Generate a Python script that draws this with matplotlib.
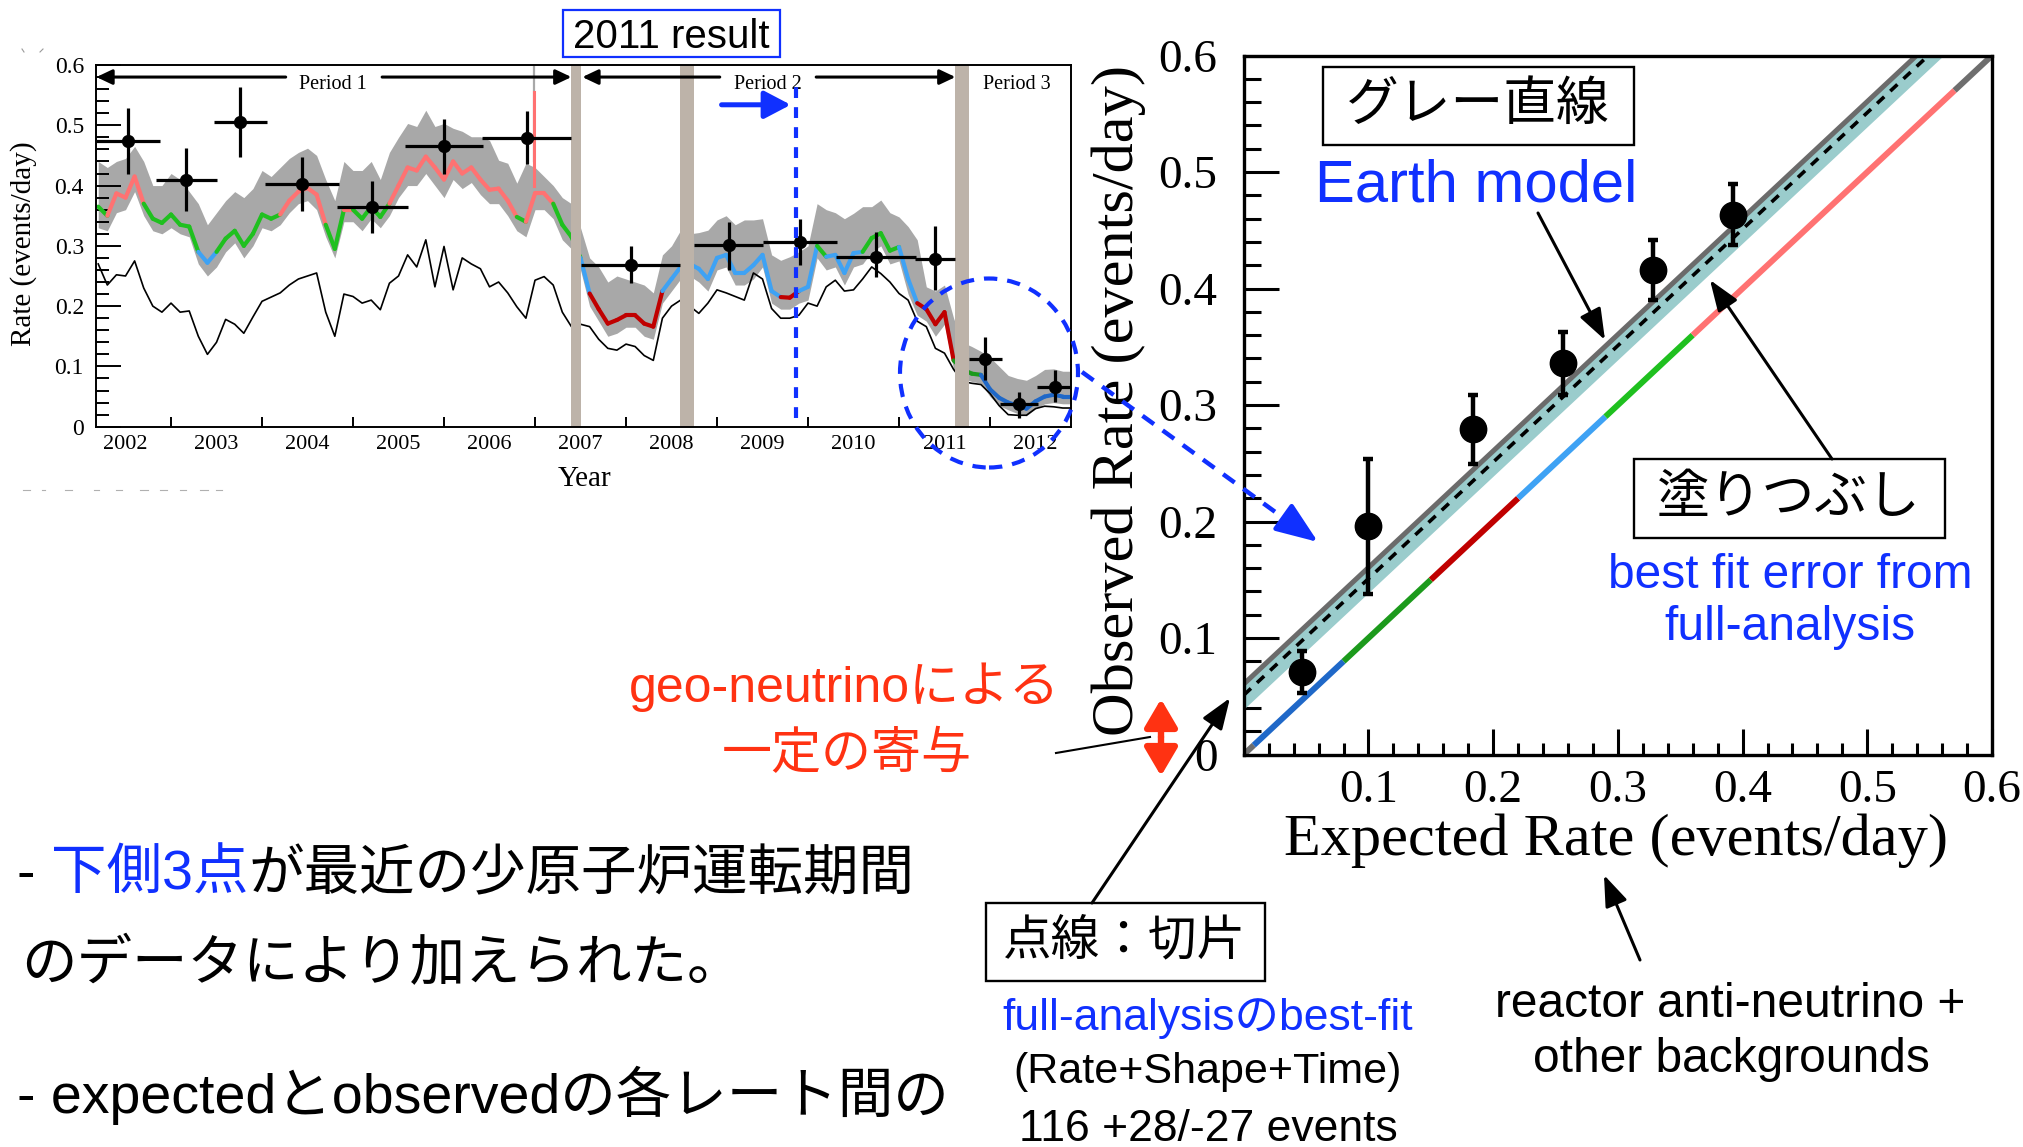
import numpy as np
import matplotlib
matplotlib.use("Agg")
import matplotlib.pyplot as plt
from matplotlib.patches import Rectangle, Ellipse, FancyArrowPatch
from matplotlib.lines import Line2D
from matplotlib.collections import LineCollection
from matplotlib.ticker import MultipleLocator

plt.rcParams["font.family"] = ["Liberation Serif", "DejaVu Serif"]
SANS = ["Liberation Sans", "Noto Sans CJK JP"]

W, H = 2024, 1147

# ---------------- time series: KamLAND rate history ----------------
years = [2002.2, 2002.3, 2002.4, 2002.5, 2002.6, 2002.7, 2002.8, 2002.9,
         2003.0, 2003.1, 2003.2, 2003.3, 2003.4, 2003.5, 2003.6, 2003.7, 2003.8, 2003.9,
         2004.0, 2004.1, 2004.2, 2004.3, 2004.4, 2004.5, 2004.6, 2004.7, 2004.8, 2004.9,
         2005.0, 2005.1, 2005.2, 2005.3, 2005.4, 2005.5, 2005.6, 2005.7, 2005.8, 2005.9,
         2006.0, 2006.1, 2006.2, 2006.3, 2006.4, 2006.5, 2006.6, 2006.7, 2006.8, 2006.9,
         2007.0, 2007.1, 2007.2, 2007.3, 2007.4, 2007.5, 2007.6, 2007.7, 2007.8, 2007.9,
         2008.0, 2008.1, 2008.2, 2008.3, 2008.4, 2008.5, 2008.6, 2008.7, 2008.8, 2008.9,
         2009.0, 2009.1, 2009.2, 2009.3, 2009.4, 2009.5, 2009.6, 2009.7, 2009.8, 2009.9,
         2010.0, 2010.1, 2010.2, 2010.3, 2010.4, 2010.5, 2010.6, 2010.7, 2010.8, 2010.9,
         2011.0, 2011.1, 2011.2, 2011.3, 2011.4, 2011.5, 2011.6, 2011.7, 2011.8, 2011.9,
         2012.0, 2012.1, 2012.2, 2012.3, 2012.4, 2012.5, 2012.6, 2012.7, 2012.8, 2012.9]

# expected rate (reactor + backgrounds), coloured by rate bin
expected_rate = [0.365, 0.350, 0.387, 0.380, 0.415, 0.370, 0.345, 0.338,
                 0.352, 0.335, 0.332, 0.290, 0.272, 0.290, 0.312, 0.325, 0.300, 0.320,
                 0.352, 0.345, 0.352, 0.375, 0.390, 0.396, 0.385, 0.335, 0.295, 0.360,
                 0.360, 0.345, 0.365, 0.348, 0.370, 0.400, 0.430, 0.425, 0.448, 0.430,
                 0.410, 0.440, 0.420, 0.430, 0.410, 0.393, 0.395, 0.375, 0.348, 0.340,
                 0.387, 0.387, 0.370, 0.335, 0.315, 0.280, 0.221, 0.195, 0.171, 0.177,
                 0.185, 0.185, 0.171, 0.166, 0.225, 0.245, 0.265, 0.270, 0.262, 0.245,
                 0.280, 0.285, 0.255, 0.255, 0.268, 0.285, 0.225, 0.215, 0.214, 0.225,
                 0.232, 0.300, 0.282, 0.285, 0.255, 0.288, 0.290, 0.313, 0.321, 0.292,
                 0.298, 0.245, 0.205, 0.195, 0.170, 0.190, 0.110, 0.095, 0.088, 0.086,
                 0.062, 0.048, 0.040, 0.035, 0.030, 0.042, 0.050, 0.053, 0.050, 0.050]

# expected rate including geo-neutrinos (grey band edges)
band_top = [0.440, 0.430, 0.440, 0.445, 0.465, 0.440, 0.400, 0.400,
            0.420, 0.410, 0.390, 0.370, 0.335, 0.355, 0.375, 0.390, 0.380, 0.395,
            0.425, 0.415, 0.430, 0.445, 0.455, 0.462, 0.450, 0.410, 0.375, 0.440,
            0.425, 0.425, 0.440, 0.410, 0.455, 0.480, 0.503, 0.498, 0.525, 0.498,
            0.503, 0.495, 0.490, 0.481, 0.481, 0.475, 0.442, 0.437, 0.404, 0.437,
            0.430, 0.415, 0.400, 0.380, 0.370, 0.330, 0.280, 0.265, 0.240, 0.250,
            0.245, 0.240, 0.235, 0.222, 0.285, 0.300, 0.326, 0.320, 0.322, 0.326,
            0.343, 0.350, 0.335, 0.343, 0.343, 0.345, 0.285, 0.276, 0.282, 0.290,
            0.300, 0.370, 0.360, 0.355, 0.345, 0.354, 0.365, 0.365, 0.376, 0.355,
            0.348, 0.332, 0.310, 0.232, 0.225, 0.235, 0.180, 0.140, 0.133, 0.125,
            0.115, 0.100, 0.085, 0.080, 0.077, 0.085, 0.095, 0.096, 0.092, 0.092]
band_bottom = [0.330, 0.325, 0.355, 0.360, 0.390, 0.350, 0.325, 0.320,
               0.330, 0.320, 0.315, 0.270, 0.250, 0.265, 0.290, 0.305, 0.280, 0.300,
               0.330, 0.325, 0.335, 0.355, 0.370, 0.375, 0.360, 0.315, 0.280, 0.340,
               0.340, 0.325, 0.345, 0.330, 0.350, 0.380, 0.400, 0.400, 0.420, 0.400,
               0.380, 0.410, 0.395, 0.405, 0.385, 0.370, 0.370, 0.350, 0.325, 0.315,
               0.360, 0.360, 0.345, 0.310, 0.295, 0.260, 0.200, 0.175, 0.150, 0.155,
               0.165, 0.165, 0.150, 0.145, 0.205, 0.225, 0.245, 0.250, 0.240, 0.225,
               0.260, 0.265, 0.235, 0.235, 0.245, 0.265, 0.205, 0.195, 0.195, 0.205,
               0.210, 0.280, 0.260, 0.265, 0.235, 0.265, 0.270, 0.290, 0.300, 0.270,
               0.275, 0.220, 0.185, 0.175, 0.150, 0.170, 0.095, 0.080, 0.075, 0.072,
               0.050, 0.035, 0.028, 0.022, 0.018, 0.030, 0.038, 0.040, 0.038, 0.038]

# reactor-only expectation (black line)
reactor_only = [0.270, 0.235, 0.252, 0.250, 0.275, 0.230, 0.200, 0.190,
                0.205, 0.190, 0.192, 0.150, 0.120, 0.140, 0.178, 0.170, 0.155, 0.182,
                0.208, 0.215, 0.222, 0.235, 0.245, 0.250, 0.255, 0.190, 0.150, 0.220,
                0.216, 0.205, 0.210, 0.194, 0.238, 0.250, 0.285, 0.265, 0.310, 0.232,
                0.299, 0.227, 0.280, 0.270, 0.262, 0.232, 0.240, 0.222, 0.199, 0.180,
                0.243, 0.249, 0.235, 0.190, 0.166, 0.170, 0.166, 0.145, 0.130, 0.127,
                0.137, 0.133, 0.118, 0.110, 0.180, 0.200, 0.210, 0.200, 0.188, 0.205,
                0.227, 0.222, 0.216, 0.210, 0.255, 0.245, 0.196, 0.180, 0.180, 0.185,
                0.205, 0.200, 0.232, 0.243, 0.225, 0.227, 0.245, 0.265, 0.254, 0.240,
                0.221, 0.210, 0.175, 0.166, 0.130, 0.122, 0.095, 0.075, 0.072, 0.070,
                0.055, 0.035, 0.020, 0.019, 0.019, 0.030, 0.034, 0.033, 0.031, 0.031]

# single-day spike late 2006
spike_year = 2006.99
spike_rate = 0.555
spike_band = 0.600

# detector purification / no-data intervals
gaps = [(2007.39, 2007.51), (2008.59, 2008.75), (2011.62, 2011.77)]

# binned data points
pt_year = [2002.53, 2003.17, 2003.76, 2004.44, 2005.21, 2006.00, 2006.91, 2008.05,
           2009.13, 2009.91, 2010.75, 2011.40, 2011.95, 2012.32, 2012.71]
pt_half = [0.35, 0.33, 0.29, 0.41, 0.39, 0.43, 0.49, 0.54,
           0.38, 0.41, 0.44, 0.22, 0.18, 0.21, 0.19]
pt_rate = [0.474, 0.409, 0.506, 0.402, 0.365, 0.466, 0.479, 0.268,
           0.301, 0.307, 0.282, 0.278, 0.113, 0.037, 0.066]
pt_err_up = [0.055, 0.053, 0.058, 0.045, 0.043, 0.045, 0.045, 0.032,
             0.038, 0.037, 0.041, 0.055, 0.036, 0.021, 0.028]
pt_err_dn = [0.054, 0.052, 0.058, 0.044, 0.044, 0.047, 0.043, 0.030,
             0.041, 0.039, 0.033, 0.051, 0.036, 0.023, 0.025]

year_labels = ["2002", "2003", "2004", "2005", "2006", "2007",
               "2008", "2009", "2010", "2011", "2012"]
rate_labels = ["0", "0.1", "0.2", "0.3", "0.4", "0.5", "0.6"]

# ---------------- observed vs expected ----------------
exp_points = [0.047, 0.100, 0.184, 0.256, 0.328, 0.392]
obs_points = [0.071, 0.196, 0.279, 0.336, 0.416, 0.4635]
obs_err = [0.018, 0.058, 0.030, 0.027, 0.026, 0.026]
earth_model_offset = 0.0605
best_fit_offset = 0.051
best_fit_range = (0.039, 0.063)

# expected-rate bins and their colours
rate_edges = [0.008, 0.08, 0.15, 0.22, 0.29, 0.36, 0.57]
bin_colors = ["#1f68c8", "#1c9a1c", "#c00000", "#3ea2f4", "#1fc01f", "#ff7272"]
OUT_COLOR = "#6e6e6e"

BLUE = "#1030ff"
RED = "#ff3212"
TAN = "#bdb3a9"
BAND = "#a8a8a8"


def rate_color(v):
    for lo, hi, c in zip(rate_edges[:-1], rate_edges[1:], bin_colors):
        if lo <= v < hi:
            return c
    return OUT_COLOR


def F(x, y):
    """figure pixels (from top-left) -> figure fraction"""
    return (x / W, 1 - y / H)


fig = plt.figure(figsize=(W / 100, H / 100), dpi=100)
fig.patch.set_facecolor("white")

# ======================= top-left panel =======================
L, R_, T, B = 96.4, 1071.0, 65.0, 426.7
ax1 = fig.add_axes([L / W, 1 - B / H, (R_ - L) / W, (B - T) / H])
ax1.set_xlim(2002.18, 2012.89)
ax1.set_ylim(0, 0.6)

t = np.array(years)
v = np.array(expected_rate)
ax1.fill_between(t, band_bottom, band_top, color=BAND, lw=0, zorder=1)
ax1.plot([spike_year, spike_year], [0.44, spike_band], color=BAND, lw=1.6, zorder=1)
segs = [[(t[i], v[i]), (t[i + 1], v[i + 1])] for i in range(len(t) - 1)]
cols = [rate_color(0.5 * (v[i] + v[i + 1])) for i in range(len(t) - 1)]
ax1.add_collection(LineCollection(segs, colors=cols, linewidths=3.0,
                                  capstyle="round", zorder=2))
ax1.plot([spike_year, spike_year], [0.40, spike_rate], color=rate_color(0.5),
         lw=2.2, zorder=2)
ax1.plot(t, reactor_only, color="black", lw=1.2, zorder=3)

for g0, g1 in gaps:
    ax1.axvspan(g0, g1, color=TAN, lw=0, zorder=4)

ax1.errorbar(pt_year, pt_rate, xerr=pt_half, yerr=[pt_err_dn, pt_err_up],
             fmt="o", color="black", ms=8.5, elinewidth=2.3, capsize=0, zorder=6)

# period markers
arr_kw = dict(arrowstyle="-|>,head_length=0.95,head_width=0.45", lw=2.2,
              color="black", mutation_scale=10, shrinkA=0, shrinkB=0)
for x0, x1 in [(2004.26, 2002.18), (2005.32, 2007.40),
               (2009.03, 2007.52), (2010.09, 2011.62)]:
    ax1.annotate("", xy=(x1, 0.580), xytext=(x0, 0.580), arrowprops=arr_kw,
                 zorder=7)
for x, s in [(2004.78, "Period 1"), (2009.56, "Period 2"), (2012.29, "Period 3")]:
    ax1.text(x, 0.561, s, ha="center", va="baseline", fontsize=14.5, zorder=7)

# 2011 analysis cut
ax1.plot([2009.87, 2009.87], [0.014, 0.567], color=BLUE, lw=3,
         linestyle=(0, (2.6, 2.2)), zorder=7)
ax1.annotate("", xy=(2009.81, 0.534), xytext=(2009.05, 0.534),
             arrowprops=dict(arrowstyle="-|>,head_length=0.8,head_width=0.42",
                             lw=3.6, color=BLUE, mutation_scale=20,
                             shrinkA=0, shrinkB=0), zorder=7)

ax1.set_xticks(range(2003, 2013))
ax1.set_xticks([y + 0.5 for y in range(2002, 2013)], minor=True)
ax1.set_xticklabels(year_labels, minor=True)
ax1.tick_params(axis="x", which="major", direction="in", length=7, width=1.4,
                labelbottom=False)
ax1.tick_params(axis="x", which="minor", length=0, labelsize=16, pad=6)
ax1.set_yticks([0, 0.1, 0.2, 0.3, 0.4, 0.5, 0.6])
ax1.set_yticklabels(rate_labels)
ax1.yaxis.set_minor_locator(MultipleLocator(0.02))
ax1.tick_params(axis="y", which="major", direction="in", length=18, width=1.4,
                labelsize=17, pad=9)
ax1.tick_params(axis="y", which="minor", direction="in", length=9, width=1.4)
for s in ax1.spines.values():
    s.set_linewidth(1.4)
    s.set_zorder(8)

fig.text(*F(24, 244), "Rate (events/day)", rotation=90, ha="center", va="center",
         fontsize=21)
fig.text(*F(585, 486), "Year", ha="center", va="baseline", fontsize=21)

# ======================= observed vs expected panel =======================
L2, R2, T2, B2 = 1243.8, 1992.0, 55.5, 754.5
ax2 = fig.add_axes([L2 / W, 1 - B2 / H, (R2 - L2) / W, (B2 - T2) / H])
ax2.set_xlim(0, 0.6)
ax2.set_ylim(0, 0.6)

xx = np.array([0.0, 0.6])
# expected = observed diagonal, coloured by rate bin
ax2.plot([0, rate_edges[0]], [0, rate_edges[0]], color=OUT_COLOR, lw=4.3,
         solid_capstyle="butt", zorder=2)
for lo, hi, c in zip(rate_edges[:-1], rate_edges[1:], bin_colors):
    ax2.plot([lo, hi], [lo, hi], color=c, lw=4.3, solid_capstyle="butt", zorder=2)
ax2.plot([rate_edges[-1], 0.6], [rate_edges[-1], 0.6], color=OUT_COLOR, lw=4.3,
         solid_capstyle="butt", zorder=2)
# best-fit geo-neutrino offset with its error, and the Earth-model prediction
ax2.fill_between(xx, xx + best_fit_range[0], xx + best_fit_range[1],
                 color="#9acccc", lw=0, zorder=3)
ax2.plot(xx, xx + earth_model_offset, color="#6b6b6b", lw=3.6, zorder=4)
ax2.plot(xx, xx + best_fit_offset, color="black", lw=2.6,
         linestyle=(0, (2.7, 2.3)), zorder=5)
ax2.errorbar(exp_points, obs_points, yerr=obs_err, fmt="o", color="black",
             ms=19, elinewidth=3.2, capsize=3.5, capthick=3.2, zorder=6)

ax2.set_xticks([0, 0.1, 0.2, 0.3, 0.4, 0.5, 0.6])
ax2.set_xticklabels([""] + rate_labels[1:])
ax2.set_yticks([0, 0.1, 0.2, 0.3, 0.4, 0.5, 0.6])
ax2.set_yticklabels(rate_labels)
ax2.xaxis.set_minor_locator(MultipleLocator(0.02))
ax2.yaxis.set_minor_locator(MultipleLocator(0.02))
ax2.tick_params(axis="x", which="major", direction="in", length=19, width=2.2,
                labelsize=34, pad=11)
ax2.tick_params(axis="x", which="minor", direction="in", length=8.3, width=2.2)
ax2.tick_params(axis="y", which="major", direction="in", length=25, width=2.2,
                labelsize=34, pad=19)
ax2.tick_params(axis="y", which="minor", direction="in", length=12, width=2.2)
for s in ax2.spines.values():
    s.set_linewidth(2.4)
    s.set_zorder(8)

fig.text(*F(1616, 855), "Expected Rate (events/day)", ha="center", va="baseline",
         fontsize=43.5)
fig.text(*F(1119, 400), "Observed Rate (events/day)", rotation=90, ha="center",
         va="center", fontsize=43.5)


# ======================= annotations =======================
def box(x0, y0, x1, y1, ec="black", lw=1.7):
    fig.add_artist(Rectangle(F(x0, y1), (x1 - x0) / W, (y1 - y0) / H,
                             transform=fig.transFigure, fc="white", ec=ec,
                             lw=lw, zorder=10))


def label(x, y, s, size, color="black", ha="center", va="baseline"):
    return fig.text(*F(x, y), s, fontsize=size, color=color, ha=ha, va=va,
                    family=SANS, zorder=11)


def arrow(p0, p1, color="black", lw=2.2, hl=1.9, hw=0.7, style="-|>", ls="-"):
    fig.add_artist(FancyArrowPatch(F(*p0), F(*p1), transform=fig.transFigure,
                                   arrowstyle=f"{style},head_length={hl},head_width={hw}",
                                   mutation_scale=10, color=color, lw=lw,
                                   linestyle=ls, shrinkA=0, shrinkB=0, zorder=12))


box(563, 10, 780, 57, ec=BLUE, lw=1.6)
label(671, 48, "2011 result", 29)

box(1323, 67, 1634, 145)
label(1478, 106, "グレー直線", 38, va="center")
label(1476, 201, "Earth model", 43, color=BLUE)
arrow((1538, 213), (1605, 340))

box(1634, 459, 1945, 538)
label(1789, 499, "塗りつぶし", 38, va="center")
label(1790, 588, "best fit error from", 34.5, color=BLUE)
label(1790, 640, "full-analysis", 34.5, color=BLUE)
arrow((1832, 459), (1710, 280))

label(844, 702, "geo-neutrinoによる", 36, color=RED)
label(847, 768, "一定の寄与", 36, color=RED)
arrow((1161, 737), (1161, 699), color=RED, lw=4.6, hl=1.7, hw=1.0)
arrow((1161, 737), (1161, 776), color=RED, lw=4.6, hl=1.7, hw=1.0)
fig.add_artist(Line2D([1056 / W, 1150 / W], [1 - 753 / H, 1 - 737 / H],
                      transform=fig.transFigure, color="black", lw=1.5, zorder=12))

box(986, 903, 1265, 981)
label(1125, 942, "点線：切片", 35, va="center")
arrow((1092, 903), (1230, 698))
label(1208, 1030, "full-analysisのbest-fit", 32, color=BLUE)
label(1208, 1083, "(Rate+Shape+Time)", 31)
label(1208, 1141, "116 +28/-27 events", 32)

arrow((1640, 960), (1604, 875))
label(1730, 1017, "reactor anti-neutrino +", 34.5)
label(1731, 1072, "other backgrounds", 34.5)

# highlighted low-rate period and pointer to the lowest points
fig.add_artist(Ellipse((989 / 100, (H - 373) / 100), 1.78, 1.89,
                       transform=fig.dpi_scale_trans, fill=False, ec=BLUE, lw=3,
                       linestyle=(0, (3.2, 2.4)), zorder=12))
fig.add_artist(Line2D([1082 / W, 1296 / W], [1 - 372 / H, 1 - 527 / H],
                      transform=fig.transFigure, color=BLUE, lw=3.2,
                      linestyle=(0, (3.2, 2.4)), zorder=12))
arrow((1290, 522), (1318, 542), color=BLUE, lw=3.2, hl=2.6, hw=1.0)

# bullet text
renderer = fig.canvas.get_renderer()


def run(x, y, pieces, size):
    for s, c in pieces:
        txt = label(x, y, s, size, color=c, ha="left")
        x += txt.get_window_extent(renderer).width


run(17, 890, [("- ", "black"), ("下側3点", BLUE), ("が最近の少原子炉運転期間", "black")], 40)
run(21, 980, [("のデータにより加えられた。", "black")], 40)
run(17, 1113, [("- expectedとobservedの各レート間の", "black")], 40)

# faint cropped marks at the panel corners
for x0, y0, x1, y1 in [(22, 49, 24, 52), (40, 52, 43, 49)]:
    fig.add_artist(Line2D([x0 / W, x1 / W], [1 - y0 / H, 1 - y1 / H],
                          transform=fig.transFigure, color="#999999", lw=0.8))
for x0, x1 in [(23, 30), (42, 45), (65, 72), (94, 99), (116, 122), (140, 148),
               (160, 167), (180, 186), (200, 208), (216, 222)]:
    fig.add_artist(Line2D([x0 / W, x1 / W], [1 - 490 / H, 1 - 490 / H],
                          transform=fig.transFigure, color="#b0b0b0", lw=0.8))

fig.savefig("out.png", dpi=100)
